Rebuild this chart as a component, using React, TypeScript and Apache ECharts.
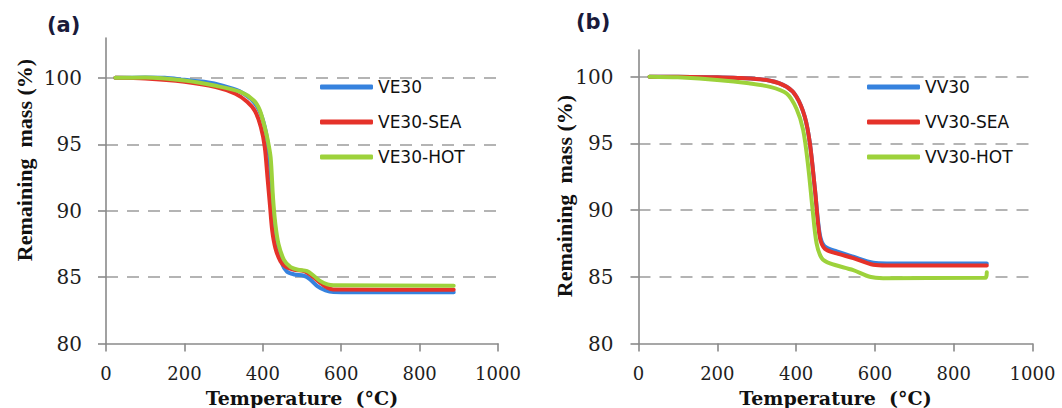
import React, { useEffect, useRef } from "react";
import * as echarts from "echarts";

// ---------- data (a) VE30 family ----------
const tVE30 = [24, 100, 150, 200, 250, 300, 340, 370, 390, 405, 415, 422, 428, 436, 448, 462, 480, 505, 520, 540, 560, 580, 700, 887];
const mVE30 = [100, 100.02, 100, 99.85, 99.7, 99.4, 99.0, 98.4, 97.6, 96.3, 94.5, 92.0, 89.5, 87.6, 86.1, 85.4, 85.2, 85.1, 84.85, 84.3, 84.0, 83.88, 83.85, 83.85];

const tVE30SEA = [24, 100, 200, 280, 330, 360, 380, 395, 405, 412, 418, 424, 432, 445, 460, 480, 505, 525, 545, 565, 580, 887];
const mVE30SEA = [100, 99.95, 99.7, 99.3, 98.8, 98.2, 97.5, 96.3, 94.8, 92.5, 90.5, 88.5, 87.2, 86.2, 85.75, 85.55, 85.45, 85.1, 84.6, 84.2, 84.07, 84.05];

const tVE30HOT = [24, 100, 200, 280, 343, 377, 392, 403, 412, 420, 426, 432, 440, 454, 471, 490, 513, 530, 547, 565, 580, 887];
const mVE30HOT = [100, 100.02, 99.8, 99.4, 98.94, 98.3, 97.6, 96.5, 95.4, 94.0, 91.0, 89.0, 87.5, 86.3, 85.75, 85.55, 85.45, 85.1, 84.7, 84.45, 84.38, 84.35];

// ---------- data (b) VV30 family ----------
const tVV30 = [28, 100, 200, 260, 334, 376, 401, 422, 435, 448, 460, 472, 503, 545, 596, 630, 884];
const mVV30 = [100, 100, 99.95, 99.9, 99.7, 99.25, 98.5, 97.0, 95.0, 91.5, 88.2, 87.3, 86.9, 86.5, 86.05, 86.0, 86.0];

const tVV30SEA = [28, 100, 200, 260, 334, 376, 401, 422, 435, 448, 460, 473, 503, 545, 596, 630, 884];
const mVV30SEA = [100, 100, 99.95, 99.9, 99.7, 99.24, 98.5, 97.0, 95.0, 91.5, 88.0, 87.1, 86.75, 86.4, 85.9, 85.85, 85.85];

const tVV30HOT = [28, 100, 207, 280, 334, 376, 401, 418, 431, 442, 452, 465, 486, 545, 587, 621, 880, 884];
const mVV30HOT = [100, 99.95, 99.74, 99.5, 99.24, 98.74, 97.6, 96.0, 93.2, 90.0, 87.5, 86.4, 86.0, 85.5, 85.0, 84.9, 84.92, 85.35];

const namesA = ["VE30", "VE30-SEA", "VE30-HOT"];
const namesB = ["VV30", "VV30-SEA", "VV30-HOT"];
const panelTitles = ["(a)", "(b)"];
const xName = "Temperature  (°C)";
const yName = "Remaining  mass (%)";
const yTicks = [80, 85, 90, 95, 100];

const colors = ["#3682de", "#e5322a", "#9dd23b"];

const zip = (t: number[], m: number[]) => t.map((v, i) => [v, m[i]]);

export default function App() {
  const ref = useRef<HTMLDivElement>(null);
  useEffect(() => {
    if (!ref.current) return;
    const chart = echarts.init(ref.current, null, { renderer: "svg" });

    const serifLabel = { fontFamily: "DejaVu Serif", fontSize: 20, color: "#1e1e1e" };
    const axisLineStyle = { color: "#8a8a8a", width: 1.6 };

    const mkX = (gridIndex: number) => ({
      type: "value",
      gridIndex,
      min: 0,
      max: 1000,
      interval: 200,
      axisLine: { show: true, lineStyle: axisLineStyle },
      axisTick: { show: true, inside: false, length: 8, lineStyle: axisLineStyle },
      axisLabel: { ...serifLabel, fontSize: 18, lineHeight: 18, margin: 21, formatter: (v: number) => String(v) },
      splitLine: { show: false },
    });
    const mkY = (gridIndex: number, max: number, margin: number) => ({
      type: "value",
      gridIndex,
      min: 80,
      max,
      interval: 5,
      axisLine: { show: true, lineStyle: axisLineStyle },
      axisTick: { show: true, inside: false, length: 8, lineStyle: axisLineStyle, customValues: yTicks },
      axisLabel: { ...serifLabel, margin, customValues: yTicks, formatter: (v: number) => String(v) },
      splitLine: {
        show: true,
        showMinLine: false,
        lineStyle: { color: "#9c9c9c", width: 1.5, type: [12, 9] },
      },
    });

    const mkSeries = (name: string, t: number[], m: number[], color: string, idx: number) => ({
      name,
      type: "line",
      xAxisIndex: idx,
      yAxisIndex: idx,
      data: zip(t, m),
      showSymbol: false,
      symbol: "none",
      smooth: 0.3,
      lineStyle: { color, width: 4, cap: "round", join: "round" },
      itemStyle: { color },
      color,
    });

    const legendBase = {
      orient: "vertical",
      icon: "roundRect",
      itemWidth: 53,
      itemHeight: 5,
      itemGap: 15,
      selectedMode: false,
      padding: 0,
      textStyle: { fontFamily: "DejaVu Sans", fontSize: 17, color: "#111", lineHeight: 20 },
    };

    const yNameText = (x: number, y: number) => ({
      type: "text",
      x,
      y,
      rotation: Math.PI / 2,
      style: {
        text: yName,
        font: "bold 22px 'Liberation Serif'",
        fill: "#111",
        align: "center",
        verticalAlign: "middle",
      },
    });
    const xNameText = (x: number, y: number) => ({
      type: "text",
      x,
      y,
      style: {
        text: xName,
        font: "bold 19px 'DejaVu Serif'",
        lineHeight: 19,
        fill: "#111",
        align: "center",
        verticalAlign: "middle",
      },
    });

    const option = {
      animation: false,
      backgroundColor: "#ffffff",
      title: [
        { text: panelTitles[0], left: 47, top: 14, padding: 0, textStyle: { fontFamily: "DejaVu Sans", fontWeight: "bold", fontSize: 21, color: "#1a1a3a" } },
        { text: panelTitles[1], left: 576, top: 11, padding: 0, textStyle: { fontFamily: "DejaVu Sans", fontWeight: "bold", fontSize: 21, color: "#1a1a3a" } },
      ],
      grid: [
        { left: 106, top: 38, width: 392, height: 305.5, containLabel: false, outerBoundsMode: "none" },
        { left: 638.5, top: 50, width: 394, height: 293.5, containLabel: false, outerBoundsMode: "none" },
      ],
      xAxis: [mkX(0), mkX(1)],
      yAxis: [mkY(0, 103, 24), mkY(1, 102, 25)],
      legend: [
        { ...legendBase, left: 320, top: 77, data: namesA },
        { ...legendBase, left: 867, top: 77, data: namesB },
      ],
      graphic: [yNameText(24, 160), yNameText(564, 196), xNameText(302, 397.5), xNameText(835.5, 397.5)],
      series: [
        mkSeries(namesA[0], tVE30, mVE30, colors[0], 0),
        mkSeries(namesA[1], tVE30SEA, mVE30SEA, colors[1], 0),
        mkSeries(namesA[2], tVE30HOT, mVE30HOT, colors[2], 0),
        mkSeries(namesB[0], tVV30, mVV30, colors[0], 1),
        mkSeries(namesB[1], tVV30SEA, mVV30SEA, colors[1], 1),
        mkSeries(namesB[2], tVV30HOT, mVV30HOT, colors[2], 1),
      ],
    };
    chart.setOption(option as any);
    return () => chart.dispose();
  }, []);
  return <div ref={ref} style={{ position: "absolute", left: 0, top: 0, width: 1062, height: 408 }} />;
}
